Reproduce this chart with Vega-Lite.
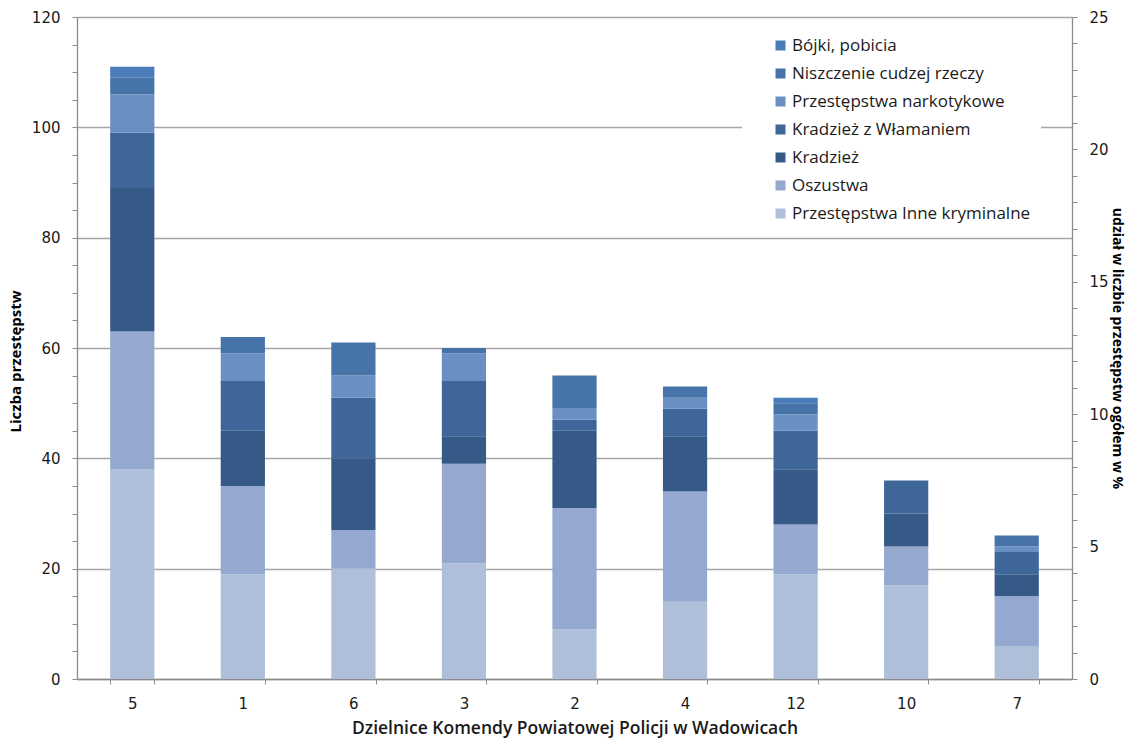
{
  "$schema": "https://vega.github.io/schema/vega-lite/v6.json",
  "width": 995,
  "height": 662,
  "autosize": {"type": "none"},
  "padding": {"left": 77, "top": 17, "right": 56, "bottom": 63},
  "background": "#ffffff",
  "config": {
    "view": {"stroke": null},
    "font": "DejaVu Sans"
  },
  "data": {
    "values": [
      {"dzielnica": "5", "kategoria": "Przestępstwa Inne kryminalne", "liczba": 38},
      {"dzielnica": "5", "kategoria": "Oszustwa", "liczba": 25},
      {"dzielnica": "5", "kategoria": "Kradzież", "liczba": 26},
      {"dzielnica": "5", "kategoria": "Kradzież z Włamaniem", "liczba": 10},
      {"dzielnica": "5", "kategoria": "Przestępstwa narkotykowe", "liczba": 7},
      {"dzielnica": "5", "kategoria": "Niszczenie cudzej rzeczy", "liczba": 3},
      {"dzielnica": "5", "kategoria": "Bójki, pobicia", "liczba": 2},
      {"dzielnica": "1", "kategoria": "Przestępstwa Inne kryminalne", "liczba": 19},
      {"dzielnica": "1", "kategoria": "Oszustwa", "liczba": 16},
      {"dzielnica": "1", "kategoria": "Kradzież", "liczba": 10},
      {"dzielnica": "1", "kategoria": "Kradzież z Włamaniem", "liczba": 9},
      {"dzielnica": "1", "kategoria": "Przestępstwa narkotykowe", "liczba": 5},
      {"dzielnica": "1", "kategoria": "Niszczenie cudzej rzeczy", "liczba": 3},
      {"dzielnica": "6", "kategoria": "Przestępstwa Inne kryminalne", "liczba": 20},
      {"dzielnica": "6", "kategoria": "Oszustwa", "liczba": 7},
      {"dzielnica": "6", "kategoria": "Kradzież", "liczba": 13},
      {"dzielnica": "6", "kategoria": "Kradzież z Włamaniem", "liczba": 11},
      {"dzielnica": "6", "kategoria": "Przestępstwa narkotykowe", "liczba": 4},
      {"dzielnica": "6", "kategoria": "Niszczenie cudzej rzeczy", "liczba": 6},
      {"dzielnica": "3", "kategoria": "Przestępstwa Inne kryminalne", "liczba": 21},
      {"dzielnica": "3", "kategoria": "Oszustwa", "liczba": 18},
      {"dzielnica": "3", "kategoria": "Kradzież", "liczba": 5},
      {"dzielnica": "3", "kategoria": "Kradzież z Włamaniem", "liczba": 10},
      {"dzielnica": "3", "kategoria": "Przestępstwa narkotykowe", "liczba": 5},
      {"dzielnica": "3", "kategoria": "Niszczenie cudzej rzeczy", "liczba": 1},
      {"dzielnica": "2", "kategoria": "Przestępstwa Inne kryminalne", "liczba": 9},
      {"dzielnica": "2", "kategoria": "Oszustwa", "liczba": 22},
      {"dzielnica": "2", "kategoria": "Kradzież", "liczba": 14},
      {"dzielnica": "2", "kategoria": "Kradzież z Włamaniem", "liczba": 2},
      {"dzielnica": "2", "kategoria": "Przestępstwa narkotykowe", "liczba": 2},
      {"dzielnica": "2", "kategoria": "Niszczenie cudzej rzeczy", "liczba": 6},
      {"dzielnica": "4", "kategoria": "Przestępstwa Inne kryminalne", "liczba": 14},
      {"dzielnica": "4", "kategoria": "Oszustwa", "liczba": 20},
      {"dzielnica": "4", "kategoria": "Kradzież", "liczba": 10},
      {"dzielnica": "4", "kategoria": "Kradzież z Włamaniem", "liczba": 5},
      {"dzielnica": "4", "kategoria": "Przestępstwa narkotykowe", "liczba": 2},
      {"dzielnica": "4", "kategoria": "Niszczenie cudzej rzeczy", "liczba": 2},
      {"dzielnica": "12", "kategoria": "Przestępstwa Inne kryminalne", "liczba": 19},
      {"dzielnica": "12", "kategoria": "Oszustwa", "liczba": 9},
      {"dzielnica": "12", "kategoria": "Kradzież", "liczba": 10},
      {"dzielnica": "12", "kategoria": "Kradzież z Włamaniem", "liczba": 7},
      {"dzielnica": "12", "kategoria": "Przestępstwa narkotykowe", "liczba": 3},
      {"dzielnica": "12", "kategoria": "Niszczenie cudzej rzeczy", "liczba": 2},
      {"dzielnica": "12", "kategoria": "Bójki, pobicia", "liczba": 1},
      {"dzielnica": "10", "kategoria": "Przestępstwa Inne kryminalne", "liczba": 17},
      {"dzielnica": "10", "kategoria": "Oszustwa", "liczba": 7},
      {"dzielnica": "10", "kategoria": "Kradzież", "liczba": 6},
      {"dzielnica": "10", "kategoria": "Kradzież z Włamaniem", "liczba": 6},
      {"dzielnica": "7", "kategoria": "Przestępstwa Inne kryminalne", "liczba": 6},
      {"dzielnica": "7", "kategoria": "Oszustwa", "liczba": 9},
      {"dzielnica": "7", "kategoria": "Kradzież", "liczba": 4},
      {"dzielnica": "7", "kategoria": "Kradzież z Włamaniem", "liczba": 4},
      {"dzielnica": "7", "kategoria": "Przestępstwa narkotykowe", "liczba": 1},
      {"dzielnica": "7", "kategoria": "Niszczenie cudzej rzeczy", "liczba": 2}
    ]
  },
  "layer": [
    {
      "transform": [
        {"calculate": "indexof(['Przestępstwa Inne kryminalne', 'Oszustwa', 'Kradzież', 'Kradzież z Włamaniem', 'Przestępstwa narkotykowe', 'Niszczenie cudzej rzeczy', 'Bójki, pobicia'], datum.kategoria)", "as": "kolejnosc"}
      ],
      "mark": {"type": "bar"},
      "encoding": {
        "x": {
          "field": "dzielnica",
          "type": "nominal",
          "sort": ["5", "1", "6", "3", "2", "4", "12", "10", "7"],
          "scale": {"paddingInner": 0.6, "paddingOuter": 0.3},
          "axis": {
            "title": "Dzielnice Komendy Powiatowej Policji w Wadowicach",
            "titleFont": "Open Sans",
            "titleFontSize": 17.5,
            "titleFontWeight": 600,
            "titleColor": "#1a1a1a",
            "titleY": 49,
            "titleBaseline": "middle",
            "labelAngle": 0,
            "labelFont": "DejaVu Sans",
            "labelFontSize": 15,
            "labelColor": "#1a1a1a",
            "labelPadding": 12,
            "tickBand": "extent",
            "tickSize": 5,
            "tickColor": "#8c8c8c",
            "domainColor": "#8c8c8c",
            "domainWidth": 1.3,
            "grid": false
          }
        },
        "y": {
          "field": "liczba",
          "type": "quantitative",
          "aggregate": "sum",
          "scale": {"domain": [0, 120], "nice": false},
          "axis": {
            "title": "Liczba przestępstw",
            "titleFont": "Open Sans",
            "titleFontSize": 15,
            "titleFontWeight": "bold",
            "titleColor": "#000000",
            "titleAngle": -90,
            "titleX": -57,
            "titleY": 344,
            "titleAlign": "center",
            "titleBaseline": "alphabetic",
            "values": [0, 5, 10, 15, 20, 25, 30, 35, 40, 45, 50, 55, 60, 65, 70, 75, 80, 85, 90, 95, 100, 105, 110, 115, 120],
            "labelExpr": "datum.value % 20 === 0 ? datum.label : ''",
            "labelFont": "DejaVu Sans",
            "labelFontSize": 15,
            "labelColor": "#1a1a1a",
            "labelPadding": 12,
            "tickSize": 5,
            "tickColor": "#8c8c8c",
            "domainColor": "#8c8c8c",
            "domainWidth": 1.3,
            "grid": true,
            "gridColor": "#a6a6a6",
            "gridWidth": 1.3,
            "gridOpacity": {"condition": {"test": "datum.value % 20 === 0", "value": 1}, "value": 0}
          }
        },
        "order": {"field": "kolejnosc", "type": "quantitative", "sort": "ascending"},
        "color": {
          "field": "kategoria",
          "type": "nominal",
          "scale": {
            "domain": ["Przestępstwa Inne kryminalne", "Oszustwa", "Kradzież", "Kradzież z Włamaniem", "Przestępstwa narkotykowe", "Niszczenie cudzej rzeczy", "Bójki, pobicia"],
            "range": ["#afbfda", "#95a9d0", "#365a87", "#3e6698", "#6a8fc3", "#4674a8", "#4a7cba"]
          },
          "legend": {
            "title": null,
            "orient": "none",
            "legendX": 665,
            "legendY": 10,
            "values": ["Bójki, pobicia", "Niszczenie cudzej rzeczy", "Przestępstwa narkotykowe", "Kradzież z Włamaniem", "Kradzież", "Oszustwa", "Przestępstwa Inne kryminalne"],
            "fillColor": "#ffffff",
            "padding": 10,
            "symbolOffset": 20,
            "symbolType": "square",
            "symbolSize": 100,
            "symbolStrokeWidth": 0,
            "labelFont": "Open Sans",
            "labelFontSize": 17,
            "labelColor": "#1a1a1a",
            "labelOffset": 3,
            "labelLimit": 400,
            "rowPadding": 10
          }
        }
      }
    },
    {
      "mark": {"type": "rule", "opacity": 0},
      "encoding": {
        "y": {
          "datum": 0,
          "type": "quantitative",
          "scale": {"domain": [0, 25], "nice": false},
          "axis": {
            "orient": "right",
            "title": "udział w liczbie przestępstw ogółem w %",
            "titleFont": "Open Sans",
            "titleFontSize": 14,
            "titleFontWeight": "bold",
            "titleColor": "#000000",
            "titleAngle": 90,
            "titleX": 40,
            "titleY": 331,
            "titleAlign": "center",
            "titleBaseline": "alphabetic",
            "values": [0, 1, 2, 3, 4, 5, 6, 7, 8, 9, 10, 11, 12, 13, 14, 15, 16, 17, 18, 19, 20, 21, 22, 23, 24, 25],
            "labelExpr": "datum.value % 5 === 0 ? datum.label : ''",
            "labelFont": "DejaVu Sans",
            "labelFontSize": 15,
            "labelColor": "#1a1a1a",
            "labelPadding": 12,
            "tickSize": 5,
            "tickColor": "#8c8c8c",
            "domainColor": "#8c8c8c",
            "domainWidth": 1.3,
            "grid": false
          }
        }
      }
    }
  ],
  "resolve": {"scale": {"y": "independent"}, "axis": {"y": "independent"}}
}
